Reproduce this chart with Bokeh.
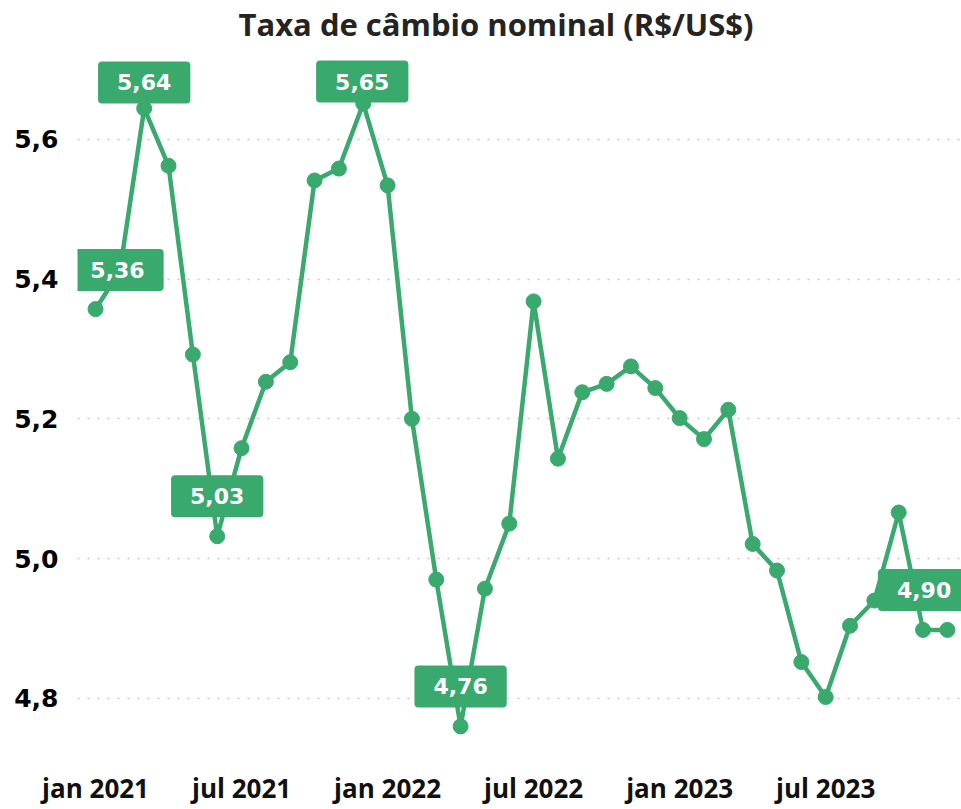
from bokeh.plotting import figure
from bokeh.models import Range1d, FixedTicker, CustomJSTickFormatter, Label, ColumnDataSource
from bokeh.embed import file_html
from bokeh.resources import INLINE

# ---- data ----
months = list(range(36))  # jan 2021 .. dez 2023
rate = [5.357, 5.411, 5.644, 5.562, 5.292, 5.032, 5.158, 5.253, 5.281, 5.541, 5.558, 5.651,
        5.534, 5.200, 4.970, 4.760, 4.957, 5.050, 5.368, 5.143, 5.238, 5.250, 5.275, 5.244,
        5.201, 5.171, 5.213, 5.021, 4.983, 4.852, 4.802, 4.904, 4.940, 5.066, 4.898, 4.898]
x_ticks = [0, 6, 12, 18, 24, 30]
x_tick_labels = ["jan 2021", "jul 2021", "jan 2022", "jul 2022", "jan 2023", "jul 2023"]
y_ticks = [4.8, 5.0, 5.2, 5.4, 5.6]
labelled_idx = [0, 2, 5, 11, 15, 34]

# label box placement (style, screen px)
label_dx = [22, 0, 0, -1, 0, 1]
label_dy = [39, 26, 40, 22, 40, 40]

GREEN = "#39A96E"

p = figure(width=961, height=809, output_backend="svg", toolbar_location=None,
           x_range=Range1d(-0.74, 35.58), y_range=Range1d(4.7398, 5.7355),
           min_border_left=77, min_border_right=0, min_border_top=44, min_border_bottom=69)
p.outline_line_color = None
p.background_fill_color = "white"
p.border_fill_color = "white"

p.title.text = "Taxa de câmbio nominal (R$/US$)"
p.title.align = "left"
p.title.offset = 161
p.title.standoff = 0
p.title.text_font = "Open Sans"
p.title.text_font_size = "31px"
p.title.text_font_style = "bold"
p.title.text_color = "#252423"

src = ColumnDataSource(dict(x=months, y=rate))
p.line("x", "y", source=src, line_color=GREEN, line_width=4.5)
p.scatter("x", "y", source=src, size=15, fill_color=GREEN, line_color=GREEN)

for i, dx, dy in zip(labelled_idx, label_dx, label_dy):
    txt = f"{rate[i]:.2f}".replace(".", ",")
    p.add_layout(Label(x=months[i], y=rate[i], x_offset=dx, y_offset=dy, text=txt,
                       text_align="center", text_baseline="middle",
                       text_color="white", text_font="DejaVu Sans", text_font_style="bold",
                       text_font_size="22px",
                       background_fill_color=GREEN, border_line_color=None,
                       padding=dict(left=19, right=19, top=13, bottom=13),
                       border_radius=4))

# axes
p.xaxis.ticker = FixedTicker(ticks=x_ticks)
p.xaxis.major_label_overrides = {t: l for t, l in zip(x_ticks, x_tick_labels)}
p.xaxis.axis_line_color = None
p.xaxis.major_tick_line_color = None
p.xaxis.minor_tick_line_color = None
p.xaxis.major_tick_out = 0
p.xaxis.major_tick_in = 0
p.xaxis.minor_tick_out = 0
p.xaxis.major_label_text_font = "Open Sans"
p.xaxis.major_label_text_font_style = "bold"
p.xaxis.major_label_text_font_size = "26px"
p.xaxis.major_label_text_color = "#111111"
p.xaxis.major_label_standoff = 29

p.yaxis.ticker = FixedTicker(ticks=y_ticks)
p.yaxis.formatter = CustomJSTickFormatter(code="return tick.toFixed(1).replace('.', ',');")
p.yaxis.axis_line_color = None
p.yaxis.major_tick_line_color = None
p.yaxis.minor_tick_line_color = None
p.yaxis.major_tick_out = 0
p.yaxis.major_tick_in = 0
p.yaxis.minor_tick_out = 0
p.yaxis.major_label_text_font = "DejaVu Sans"
p.yaxis.major_label_text_font_style = "bold"
p.yaxis.major_label_text_font_size = "25px"
p.yaxis.major_label_text_color = "#000000"
p.yaxis.major_label_standoff = 19

p.xgrid.grid_line_color = None
p.ygrid.grid_line_color = "#c8c8c8"
p.ygrid.grid_line_dash = "2 8"
p.ygrid.grid_line_width = 1.5

open("out.html", "w").write(file_html(p, INLINE))
